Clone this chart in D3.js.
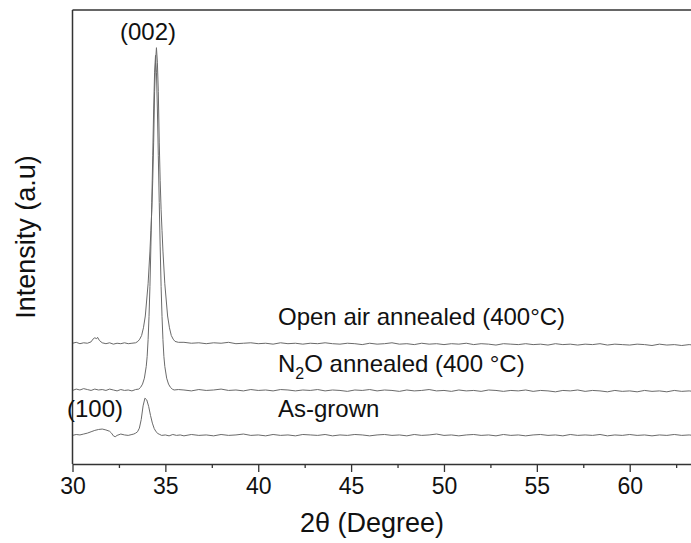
<!DOCTYPE html>
<html>
<head>
<meta charset="utf-8">
<script src="https://cdn.jsdelivr.net/npm/d3@7/dist/d3.min.js"></script>
<style>
  html, body { margin: 0; padding: 0; background: #fff; }
  svg { display: block; font-family: "Liberation Sans", Arial, Helvetica, sans-serif; }
</style>
</head>
<body>
<svg id="chart" width="691" height="543"></svg>
<script>
// ---------- data (2θ in degrees, intensity in arbitrary units) ----------
const majorTicks = [30, 35, 40, 45, 50, 55, 60];
const minorTicks = [32.5, 37.5, 42.5, 47.5, 52.5, 57.5, 62.5];
const xTitle = "2θ (Degree)";
const yTitle = "Intensity (a.u)";

const openAir = [
  [30.0,266],[30.2,268],[30.4,265],[30.6,267],[30.8,266],[31.0,269],[31.1,275],[31.2,278],[31.3,276],[31.35,279],
  [31.45,272],[31.6,267],[31.8,265],[32.0,267],[32.2,264],[32.4,266],[32.6,265],[32.8,267],[33.0,265],[33.2,266],
  [33.4,267],[33.52,270],[33.62,275],[33.72,283],[33.82,300],[33.92,326],[34.07,397],[34.17,469],[34.22,514],[34.27,560],
  [34.32,625],[34.37,709],[34.42,820],[34.47,885],[34.52,917],[34.57,885],[34.62,820],[34.67,709],[34.72,625],[34.77,560],
  [34.82,514],[34.87,469],[34.97,397],[35.12,326],[35.22,300],[35.32,283],[35.42,275],[35.52,270],[35.7,268],
  [36.0,268],[36.4,266],[36.8,267],[37.2,265],[37.6,267],[38.0,266],[38.4,268],[38.8,265],[39.2,266],[39.6,267],
  [40.0,265],[40.4,266],[40.8,264],[41.2,267],[41.6,265],[42.0,266],[42.4,264],[42.8,266],[43.2,265],[43.6,267],
  [44.0,265],[44.4,264],[44.8,266],[45.2,265],[45.6,263],[46.0,266],[46.4,264],[46.8,265],[47.2,267],[47.6,264],
  [48.0,265],[48.4,263],[48.8,266],[49.2,264],[49.6,265],[50.0,263],[50.4,265],[50.8,264],[51.2,266],[51.6,263],
  [52.0,265],[52.4,264],[52.8,262],[53.2,265],[53.6,264],[54.0,263],[54.4,265],[54.8,263],[55.2,264],[55.6,262],
  [56.0,265],[56.4,263],[56.8,264],[57.2,262],[57.6,264],[58.0,263],[58.4,265],[58.8,262],[59.2,264],[59.6,263],
  [60.0,262],[60.4,264],[60.8,263],[61.2,261],[61.6,264],[62.0,262],[62.4,263],[62.8,261],[63.2,263],[63.4,262]
];

const n2o = [
  [30.0,162],[30.2,165],[30.4,163],[30.6,166],[30.8,164],[31.0,162],[31.2,165],[31.4,163],[31.6,164],[31.8,162],
  [32.0,165],[32.2,163],[32.4,161],[32.6,164],[32.8,162],[33.0,163],[33.2,161],[33.4,164],[33.57,165],[33.67,169],
  [33.77,176],[33.87,189],[33.97,215],[34.02,237],[34.07,274],[34.12,325],[34.17,391],[34.22,480],[34.27,576],[34.32,679],
  [34.37,782],[34.42,863],[34.47,900],[34.52,863],[34.57,782],[34.62,679],[34.67,576],[34.72,480],[34.77,391],[34.82,325],
  [34.87,274],[34.92,237],[34.97,215],[35.07,189],[35.17,176],[35.27,169],[35.37,165],[35.47,163],[35.7,164],
  [36.0,163],[36.4,161],[36.8,164],[37.2,162],[37.6,163],[38.0,165],[38.4,162],[38.8,163],[39.2,161],[39.6,164],
  [40.0,162],[40.4,163],[40.8,161],[41.2,164],[41.6,163],[42.0,161],[42.4,163],[42.8,162],[43.2,164],[43.6,161],
  [44.0,163],[44.4,162],[44.8,160],[45.2,163],[45.6,162],[46.0,164],[46.4,161],[46.8,163],[47.2,162],[47.6,160],
  [48.0,163],[48.4,161],[48.8,162],[49.2,164],[49.6,161],[50.0,162],[50.4,160],[50.8,163],[51.2,161],[51.6,162],
  [52.0,160],[52.4,163],[52.8,162],[53.2,160],[53.6,162],[54.0,161],[54.4,163],[54.8,160],[55.2,162],[55.6,161],
  [56.0,159],[56.4,162],[56.8,161],[57.2,163],[57.6,160],[58.0,162],[58.4,161],[58.8,159],[59.2,162],[59.6,160],
  [60.0,161],[60.4,159],[60.8,162],[61.2,160],[61.6,161],[62.0,159],[62.4,162],[62.8,160],[63.2,161],[63.4,160]
];

const asGrown = [
  [30.0,63],[30.2,65],[30.4,64],[30.6,66],[30.8,68],[31.0,71],[31.2,74],[31.4,76],[31.6,77],[31.8,75],
  [32.0,72],[32.1,68],[32.2,62],[32.3,60],[32.4,63],[32.6,66],[32.8,64],[33.0,63],[33.2,65],[33.3,66],
  [33.4,68],[33.5,71],[33.6,79],[33.7,98],[33.8,128],[33.9,145],[34.0,141],[34.1,127],[34.2,107],[34.3,90],
  [34.4,78],[34.5,71],[34.6,67],[34.7,65],[34.8,63],[35.0,64],[35.2,62],[35.4,65],[35.6,63],[35.8,64],
  [36.0,62],[36.4,65],[36.8,63],[37.2,64],[37.6,62],[38.0,65],[38.4,63],[38.8,64],[39.2,66],[39.6,63],
  [40.0,64],[40.4,62],[40.8,65],[41.2,63],[41.6,64],[42.0,62],[42.4,65],[42.8,64],[43.2,63],[43.6,65],
  [44.0,62],[44.4,64],[44.8,63],[45.2,65],[45.6,64],[46.0,62],[46.4,64],[46.8,65],[47.2,63],[47.6,64],
  [48.0,62],[48.4,65],[48.8,63],[49.2,64],[49.6,66],[50.0,63],[50.4,64],[50.8,62],[51.2,64],[51.6,65],
  [52.0,63],[52.4,64],[52.8,62],[53.2,65],[53.6,63],[54.0,64],[54.4,62],[54.8,64],[55.2,65],[55.6,63],
  [56.0,64],[56.4,62],[56.8,65],[57.2,63],[57.6,64],[58.0,63],[58.4,65],[58.8,62],[59.2,64],[59.6,63],
  [60.0,65],[60.4,63],[60.8,64],[61.2,62],[61.6,64],[62.0,63],[62.4,65],[62.8,63],[63.2,64],[63.4,63]
];

const seriesList = [
  { name: "openAir", data: openAir },
  { name: "n2o", data: n2o },
  { name: "asGrown", data: asGrown }
];

// ---------- layout ----------
const W = 691, H = 543;
const mLeft = 72.5, mRight = 691, mTop = 10, mBottom = 464;

const svg = d3.select("#chart");
svg.append("rect").attr("width", W).attr("height", H).attr("fill", "#fff");

const x = d3.scaleLinear().domain([30, 63.3]).range([mLeft, mRight]);
const y = d3.scaleLinear().domain([0, 1000]).range([mBottom, mTop]);

svg.append("defs").append("clipPath").attr("id", "plotclip")
  .append("rect").attr("x", mLeft).attr("y", mTop).attr("width", mRight - mLeft).attr("height", mBottom - mTop);

// ---------- curves ----------
const line = d3.line().x(d => x(d[0])).y(d => y(d[1]));
svg.append("g").attr("clip-path", "url(#plotclip)")
  .selectAll("path").data(seriesList).join("path")
  .attr("d", d => line(d.data))
  .attr("fill", "none")
  .attr("stroke", "#6a6a6a")
  .attr("stroke-width", 1)
  .attr("stroke-linejoin", "round");

// ---------- frame ----------
svg.append("line").attr("x1", mLeft).attr("x2", mRight).attr("y1", mTop).attr("y2", mTop)
  .attr("stroke", "#333").attr("stroke-width", 1.5);
svg.append("line").attr("x1", mLeft).attr("x2", mLeft).attr("y1", mTop).attr("y2", mBottom)
  .attr("stroke", "#333").attr("stroke-width", 1.5);

// ---------- x axis ----------
const xAxisMajor = d3.axisBottom(x).tickValues(majorTicks).tickSize(8).tickSizeOuter(0).tickPadding(6)
  .tickFormat(d3.format("d"));
const gx = svg.append("g").attr("transform", `translate(0,${mBottom})`).call(xAxisMajor);
gx.select(".domain").attr("stroke", "#333").attr("stroke-width", 1.5);
gx.selectAll(".tick line").attr("stroke", "#333").attr("stroke-width", 1.3);
gx.selectAll(".tick text").attr("font-size", 23).attr("fill", "#111")
  .attr("font-family", "'Liberation Sans', Arial, sans-serif");

const xAxisMinor = d3.axisBottom(x).tickValues(minorTicks).tickSize(4).tickSizeOuter(0).tickFormat("");
const gxm = svg.append("g").attr("transform", `translate(0,${mBottom})`).call(xAxisMinor);
gxm.select(".domain").remove();
gxm.selectAll(".tick line").attr("stroke", "#333").attr("stroke-width", 1.3);

// ---------- axis titles ----------
svg.append("text").attr("x", 372).attr("y", 532).attr("text-anchor", "middle")
  .attr("font-size", 27).attr("fill", "#111").text(xTitle);
svg.append("text").attr("transform", "translate(35,237) rotate(-90)").attr("text-anchor", "middle")
  .attr("font-size", 27).attr("fill", "#111").text(yTitle);

// ---------- annotations ----------
const ann = svg.append("g").attr("font-size", 24).attr("fill", "#111");
ann.append("text").attr("x", 148).attr("y", 40).attr("text-anchor", "middle").text("(002)");
ann.append("text").attr("x", 67).attr("y", 417).text("(100)");
ann.append("text").attr("x", 278).attr("y", 325).text("Open air annealed (400°C)");
const n2oLabel = ann.append("text").attr("x", 278).attr("y", 372);
n2oLabel.append("tspan").text("N");
n2oLabel.append("tspan").attr("font-size", 16).attr("dy", 7).text("2");
n2oLabel.append("tspan").attr("dy", -7).text("O annealed (400 °C)");
ann.append("text").attr("x", 278).attr("y", 417).text("As-grown");
</script>
</body>
</html>
